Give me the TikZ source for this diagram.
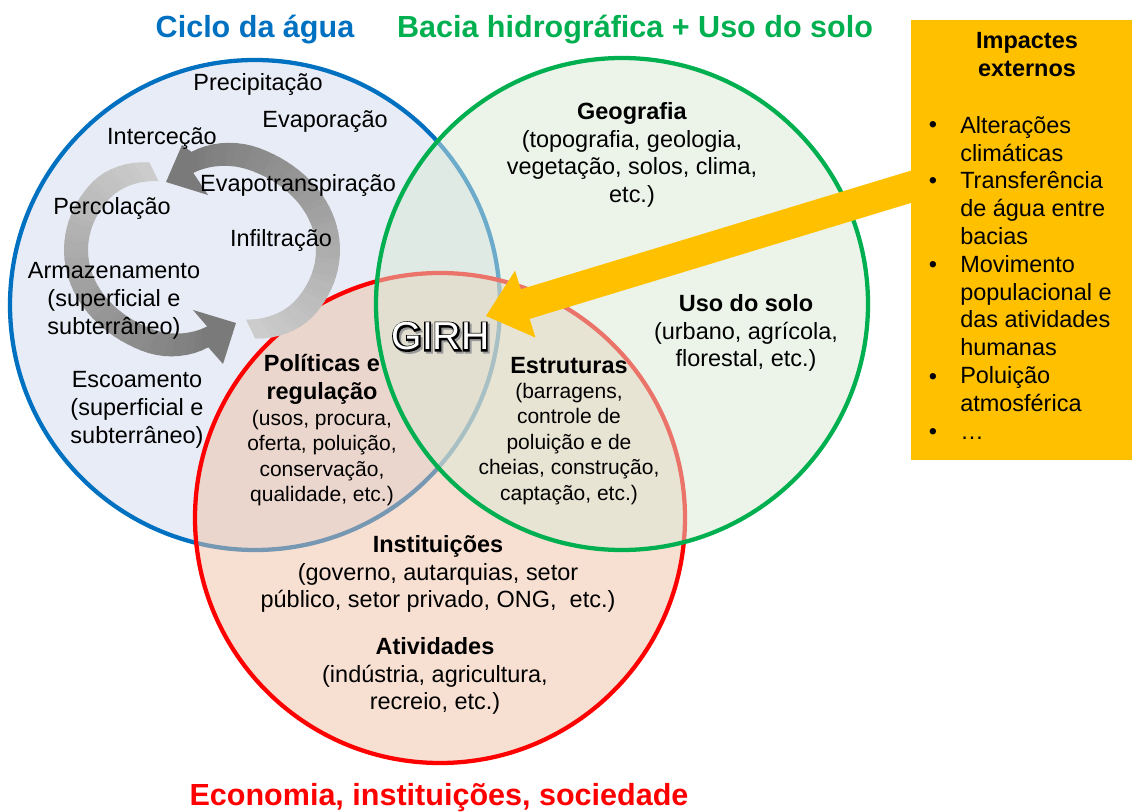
\documentclass[tikz,border=0pt]{standalone}
\usepackage{fontspec}
\setmainfont{Liberation Sans}
\newfontfamily\zzGirhBold[FakeBold=8]{Liberation Sans}
\usetikzlibrary{calc}
\definecolor{cblue}{RGB}{0,112,192}
\definecolor{cgreen}{RGB}{0,176,80}
\definecolor{cred}{RGB}{255,0,0}
\definecolor{cyel}{RGB}{255,192,0}
\definecolor{fblue}{RGB}{209,217,237}
\definecolor{fgreen}{RGB}{217,233,213}
\definecolor{fred}{RGB}{239,193,165}
\newcommand\zzBody{\fontsize{17.6pt}{20.85pt}\selectfont}
\newcommand\zzSmall{\fontsize{15.75pt}{19.05pt}\selectfont}
\newcommand\zzTitle{\fontsize{22.9pt}{27pt}\selectfont\bfseries}
\newcommand\zzGirh{\fontsize{29.25pt}{35pt}\selectfont}
\begin{document}
\begin{tikzpicture}[x=0.75pt,y=-0.75pt,
  venn/.style={line width=3.2pt, fill opacity=0.5},
  txt/.style={inner sep=0, align=center, font=\zzBody},
  sml/.style={inner sep=0, align=center, font=\zzSmall},
  ttl/.style={inner sep=0, font=\zzTitle},
  lst/.style={inner sep=0, align=left, font=\zzBody},
  girhf/.style={inner sep=0, font=\zzGirh, anchor=base},
  headfill/.style={fill=black!52}]
\useasboundingbox (0,0) rectangle (1132,812);

% circles
\draw[venn, draw=cblue, fill=fblue] (255,305) circle[radius=245];
\draw[venn, draw=cred, fill=fred] (440,518) circle[radius=245];
\draw[venn, draw=cgreen, fill=fgreen] (622,304) circle[radius=246];

% cycle arrow 1 (right, upper)
\foreach \i in {0,...,47}{
  \pgfmathsetmacro\ta{-64+\i*3.3125}
  \pgfmathsetmacro\tb{\ta+3.6}
  \pgfmathsetmacro\sa{1-0.12*(max(0,abs(\ta-15.5)-50)/29.5)^2}
  \pgfmathsetmacro\sb{1-0.12*(max(0,abs(\tb-15.5)-50)/29.5)^2}
  \pgfmathtruncatemacro\cc{20+32*\i/47}
  \fill[black!\cc] ({202+\sa*138*cos(\ta)},{250-\sa*112*sin(\ta)})
    -- ({202+\sb*138*cos(\tb)},{250-\sb*112*sin(\tb)})
    -- ({202+\sb*114*cos(\tb)},{250-\sb*88*sin(\tb)})
    -- ({202+\sa*114*cos(\ta)},{250-\sa*88*sin(\ta)}) -- cycle;
}
\fill[headfill] (191.4,151.8) -- (182,145) -- (166,182) -- (208,195) -- (193.3,172.9) -- cycle;

% cycle arrow 2 (left, lower)
\foreach \i in {0,...,47}{
  \pgfmathsetmacro\ta{116+\i*3.2708}
  \pgfmathsetmacro\tb{\ta+3.6}
  \pgfmathsetmacro\sa{1-0.13*(max(0,abs(\ta-194.5)-50)/28.5)^2}
  \pgfmathsetmacro\sb{1-0.13*(max(0,abs(\tb-194.5)-50)/28.5)^2}
  \pgfmathtruncatemacro\cc{20+32*\i/47}
  \fill[black!\cc] ({202+\sa*138*cos(\ta)},{250-\sa*112*sin(\ta)})
    -- ({202+\sb*138*cos(\tb)},{250-\sb*112*sin(\tb)})
    -- ({202+\sb*114*cos(\tb)},{250-\sb*88*sin(\tb)})
    -- ({202+\sa*114*cos(\ta)},{250-\sa*88*sin(\ta)}) -- cycle;
}
\fill[headfill] (207.2,326.5) -- (193,310) -- (236,323) -- (223,364) -- (208.3,347.3) -- cycle;

% titles
\node[ttl, text=cblue, anchor=base] (tblue) at (255,38) {Ciclo da água};
\node[ttl, text=cgreen, anchor=base] (tgreen) at (635,38) {Bacia hidrográfica + Uso do solo};
\node[ttl, text=cred, anchor=base] (tred) at (439,805) {Economia, instituições, sociedade};

% water cycle words
\node[txt, anchor=base] (prec) at (258,91) {Precipitação};
\node[txt, anchor=base] (evap) at (325,128) {Evaporação};
\node[txt, anchor=base] (inter) at (162,145) {Interceção};
\node[txt, anchor=base] (evtr) at (298,192) {Evapotranspiração};
\node[txt, anchor=base] (perc) at (112,215) {Percolação};
\node[txt, anchor=base] (infl) at (281,247) {Infiltração};
\node[txt, anchor=north] (armz) at (114,262) {Armazenamento\\(superficial e\\subterrâneo)};
\node[txt, anchor=north] (esco) at (137,371) {Escoamento\\(superficial e\\subterrâneo)};

% green circle texts
\node[txt, anchor=north] (geo) at (632,102) {\textbf{Geografia}\\(topografia, geologia,\\vegetação, solos, clima,\\etc.)};
\node[txt, anchor=north] (uso) at (746,294) {\textbf{Uso do solo}\\(urbano, agrícola,\\florestal, etc.)};

% intersections
\node[txt, anchor=north, font=\zzBody\bfseries] (polh) at (322,354) {Políticas e\\regulação};
\node[sml, anchor=north] (polt) at (322,410) {(usos, procura,\\oferta, poluição,\\conservação,\\qualidade, etc.)};
\node[txt, anchor=base, font=\zzBody\bfseries] (esth) at (569,374) {Estruturas};
\node[sml, anchor=north] (estt) at (569,383) {(barragens,\\controle de\\poluição e de\\cheias, construção,\\captação, etc.)};

% red circle texts
\node[txt, anchor=north] (inst) at (438,535) {\textbf{Instituições}\\(governo, autarquias, setor\\público, setor privado, ONG,~ etc.)};
\node[txt, anchor=north] (ativ) at (435,637) {\textbf{Atividades}\\(indústria, agricultura,\\recreio, etc.)};

% external impacts arrow
\coordinate (arrS) at (930,181);
\coordinate (arrT) at (486,316);
\coordinate (arrH) at ($(arrT)!30.75pt!(arrS)$);
\fill[cyel] ($(arrS)!11.6pt!90:(arrT)$) -- ($(arrH)!11.6pt!90:(arrT)$)
  -- ($(arrH)!26.25pt!90:(arrT)$) -- (arrT) -- ($(arrH)!26.25pt!-90:(arrT)$)
  -- ($(arrH)!11.6pt!-90:(arrT)$) -- ($(arrS)!11.6pt!-90:(arrT)$) -- cycle;

% GIRH
\node[girhf, text=black!40, font=\zzGirh\zzGirhBold] (girhs) at (442.5,352) {GIRH};
\node[girhf, text=black, font=\zzGirh\zzGirhBold] (girho) at (440.5,350) {GIRH};
\node[girhf, text=white] (girh) at (440.5,350) {GIRH};

% impacts box
\node[fill=cyel, inner sep=0, minimum width=165.75pt, minimum height=330pt] (imp) at (1021.5,240) {};
\node[txt, anchor=north, font=\zzBody\bfseries] (imph) at (1027,32) {Impactes\\externos};
\node[lst, anchor=north west] (impl) at (960,116) {Alterações\\climáticas\\Transferência\\de água entre\\bacias\\Movimento\\populacional e\\das atividades\\humanas\\Poluição\\atmosférica\\…};
\foreach \y/\n in {133/b1, 188.8/b2, 272.5/b3, 384.1/b4, 439.9/b5}{
  \node[txt, anchor=base] (\n) at (933,\y) {•};
}
\end{tikzpicture}
\end{document}
